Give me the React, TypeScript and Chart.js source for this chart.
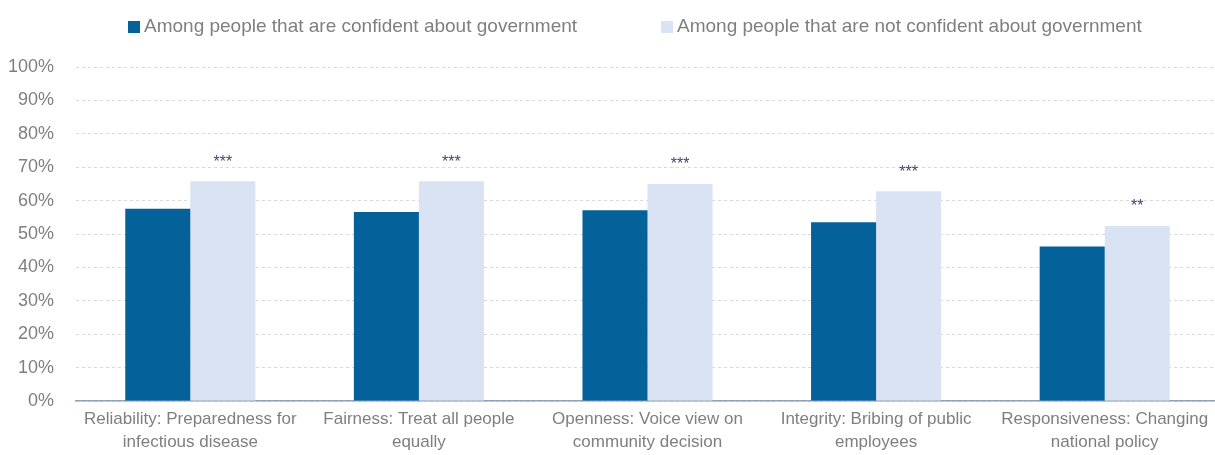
import React, { useEffect, useRef } from "react";
import { Chart, registerables } from "chart.js";

Chart.register(...registerables);

const categories: string[][] = [
  ["Reliability: Preparedness for", "infectious disease"],
  ["Fairness: Treat all people", "equally"],
  ["Openness: Voice view on", "community decision"],
  ["Integrity: Bribing of public", "employees"],
  ["Responsiveness: Changing", "national policy"],
];
const confidentValues = [57.6, 56.6, 57.1, 53.5, 46.3];
const notConfidentValues = [65.8, 65.8, 65.0, 62.8, 52.4];
const significance = ["***", "***", "***", "***", "**"];
const seriesNames = [
  "Among people that are confident about government",
  "Among people that are not confident about government",
];
const yTicks = [0, 10, 20, 30, 40, 50, 60, 70, 80, 90, 100];

const DARK = "#04619A";
const LIGHT = "#DAE3F3";
const GRAY = "#7F7F7F";
const FONT = "'Liberation Sans', Arial, sans-serif";

const overlayPlugin = {
  id: "overlay",
  afterDatasetsDraw(chart: any) {
    const ctx = chart.ctx;
    ctx.save();
    // significance stars
    const meta = chart.getDatasetMeta(1);
    ctx.fillStyle = "#44466E";
    ctx.font = `16px ${FONT}`;
    ctx.textAlign = "center";
    ctx.textBaseline = "middle";
    meta.data.forEach((bar: any, i: number) => {
      ctx.fillText(significance[i], bar.x, bar.y - 19);
    });
    // legend
    const colors = [DARK, LIGHT];
    const xs = [128, 661];
    ctx.font = `19px ${FONT}`;
    ctx.textAlign = "left";
    ctx.textBaseline = "middle";
    seriesNames.forEach((name, i) => {
      ctx.fillStyle = colors[i];
      ctx.fillRect(xs[i], 21, 12, 12);
      ctx.fillStyle = GRAY;
      ctx.fillText(name, xs[i] + 16, 27);
    });
    ctx.restore();
  },
};

export default function App() {
  const ref = useRef<HTMLCanvasElement>(null);
  useEffect(() => {
    if (!ref.current) return;
    const chart = new Chart(ref.current, {
      type: "bar",
      data: {
        labels: categories,
        datasets: [
          {
            label: seriesNames[0],
            data: confidentValues,
            backgroundColor: DARK,
            categoryPercentage: 0.569,
            barPercentage: 1,
          },
          {
            label: seriesNames[1],
            data: notConfidentValues,
            backgroundColor: LIGHT,
            categoryPercentage: 0.569,
            barPercentage: 1,
          },
        ],
      },
      options: {
        animation: false,
        responsive: true,
        maintainAspectRatio: false,
        layout: { padding: { left: 8, right: 0, top: 67, bottom: 2 } },
        plugins: {
          legend: { display: false },
          tooltip: { enabled: false },
        },
        scales: {
          x: {
            afterFit: (scale: any) => {
              scale.paddingLeft = 0;
              scale.paddingRight = 0;
            },
            grid: { display: false, drawTicks: false },
            border: { display: true, color: "#8EA3BB", width: 1.5 },
            ticks: {
              color: GRAY,
              font: { family: FONT, size: 17, lineHeight: 1.35 },
              padding: 7,
              maxRotation: 0,
              autoSkip: false,
            },
          },
          y: {
            min: 0,
            max: 100,
            afterBuildTicks: (scale: any) => {
              scale.ticks = yTicks.map((v) => ({ value: v }));
            },
            afterFit: (scale: any) => {
              scale.width = 68;
            },
            grid: {
              color: "#D9D9D9",
              drawTicks: false,
              lineWidth: 1,
            },
            border: { display: false, dash: [3, 3] },
            ticks: {
              color: GRAY,
              font: { family: FONT, size: 18 },
              padding: 22,
              callback: (v: any) => `${v}%`,
            },
          },
        },
      },
      plugins: [overlayPlugin],
    });
    return () => chart.destroy();
  }, []);
  return (
    <div style={{ position: "fixed", left: 0, top: 0, width: 1219, height: 463, background: "#fff" }}>
      <canvas ref={ref} />
    </div>
  );
}
